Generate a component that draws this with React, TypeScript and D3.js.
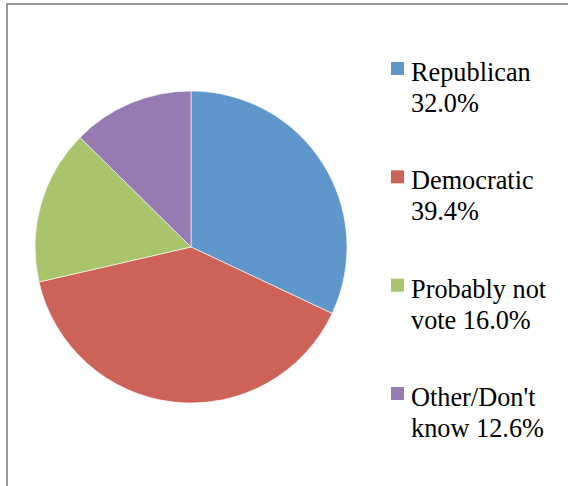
import React from "react";
import * as d3 from "d3";

const categories = ["Republican", "Democratic", "Probably not vote", "Other/Don't know"];
const values = [32.0, 39.4, 16.0, 12.6];
const legendLines = [
  ["Republican", "32.0%"],
  ["Democratic", "39.4%"],
  ["Probably not", "vote 16.0%"],
  ["Other/Don't", "know 12.6%"],
];
const colors = ["#5F96CB", "#CD6259", "#A9C46B", "#957BB2"];

export default function App() {
  const W = 568, H = 486;
  const cx = 191, cy = 247, r = 156;
  const pie = d3.pie<number>().sort(null).value((d) => d);
  const arcs = pie(values);
  const arc = d3.arc<d3.PieArcDatum<number>>().innerRadius(0).outerRadius(r);
  const legendY = d3.scaleLinear().domain([0, 3]).range([62, 387]);

  return (
    <svg
      width={W}
      height={H}
      style={{ position: "absolute", left: 0, top: 0, background: "#fff" }}
    >
      <rect x={7} y={4} width={W + 10} height={H + 10} fill="#fff" stroke="#999" strokeWidth={2} />
      <g transform={`translate(${cx},${cy})`}>
        {arcs.map((a, i) => (
          <path key={categories[i]} d={arc(a) || ""} fill={colors[i]} stroke="#fff" strokeWidth={0.6} />
        ))}
      </g>
      {categories.map((c, i) => {
        const y = legendY(i);
        return (
          <g key={c}>
            <rect x={391} y={y} width={13} height={13} fill={colors[i]} />
            <text
              x={411}
              y={y + 19}
              style={{ fontFamily: "'Liberation Serif', 'Times New Roman', serif" }}
              fontSize={26.3}
              fill="#000"
            >
              <tspan x={411}>{legendLines[i][0]}</tspan>
              <tspan x={411} dy={31}>{legendLines[i][1]}</tspan>
            </text>
          </g>
        );
      })}
    </svg>
  );
}
